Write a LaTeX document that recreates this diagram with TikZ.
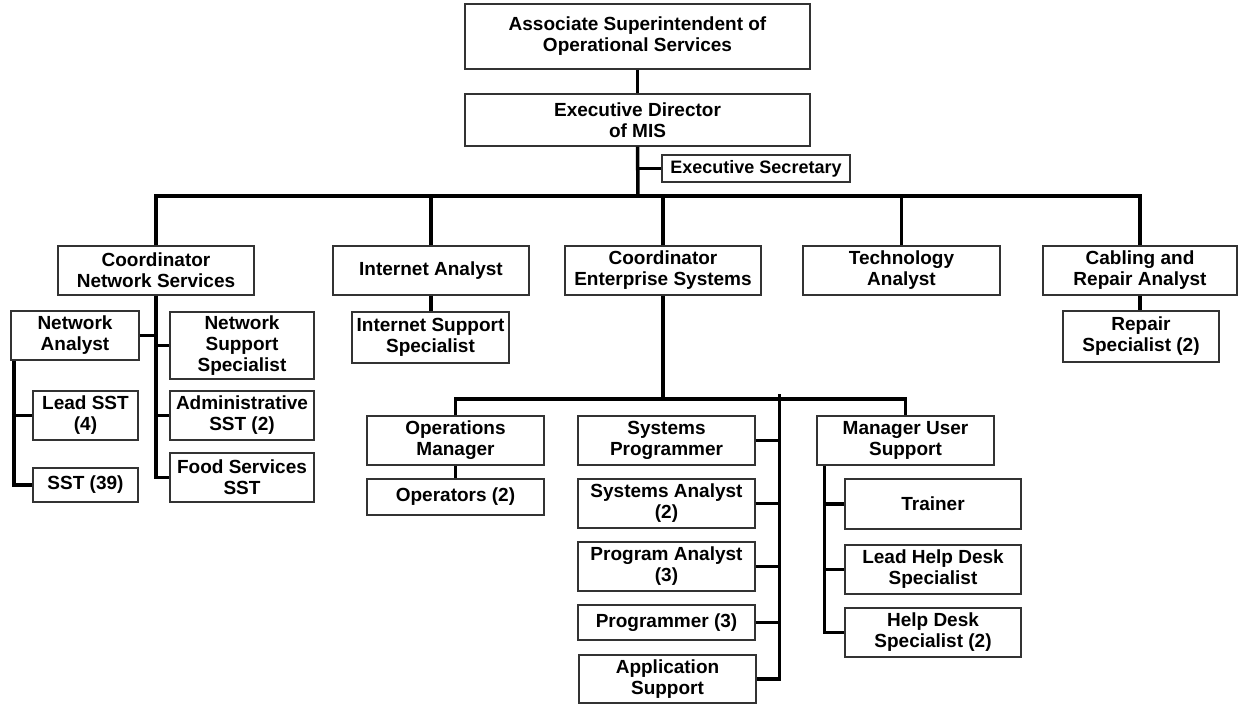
\documentclass[tikz,border=0pt]{standalone}
\usepackage{fontspec}
\setmainfont{Liberation Sans}
% \orgbox{name}{x1}{y1}{x2}{y2}{text}: a box given by its corners
\newcommand\orgbox[6]{%
  \node[box, minimum width={#4-#2}, minimum height={#5-#3}]
    (#1) at ({(#2+#4)/2},{(#3+#5)/2}) {#6};}
\begin{document}
\begin{tikzpicture}[x=1pt,y=-1pt,
  box/.style={draw=black!80, line width=1.2pt, fill=white, align=center,
    inner sep=0pt, font=\bfseries\fontsize{19}{21}\selectfont},
  smallbox/.style={box, font=\bfseries\fontsize{18}{20}\selectfont},
  conn/.style={line width=3.5pt, line join=miter, line cap=butt}]
\useasboundingbox[fill=white] (0,0) rectangle (1238,704);

% top of the chart
\orgbox{asos}{465}{4}{810}{69}{Associate Superintendent of\\Operational Services}
\orgbox{exec}{465}{94}{810}{146}{Executive Director\\of MIS}
\node[smallbox, minimum width=188, minimum height=27] (exsec) at (756,168.5) {Executive Secretary};

% second level
\orgbox{cns}{58}{246}{254}{295}{Coordinator\\Network Services}
\orgbox{ia}{333}{246}{529}{295}{Internet Analyst}
\orgbox{ces}{565}{246}{761}{295}{Coordinator\\Enterprise Systems}
\orgbox{tech}{803}{246}{1000}{295}{Technology\\Analyst}
\orgbox{cab}{1043}{246}{1237}{295}{Cabling and\\Repair Analyst}

% network services group
\orgbox{na}{11}{311}{139}{360}{Network\\Analyst}
\orgbox{nss}{170}{312}{314}{379}{Network\\Support\\Specialist}
\orgbox{lead}{33}{391}{138}{440}{Lead SST\\(4)}
\orgbox{adm}{170}{391}{314}{440}{Administrative\\SST (2)}
\orgbox{sst}{33}{468}{138}{502}{SST (39)}
\orgbox{food}{170}{453}{314}{502}{Food Services\\SST}

% internet and repair
\orgbox{iss}{352}{312}{509}{363}{Internet Support\\Specialist}
\orgbox{rep}{1063}{311}{1219}{362}{Repair\\Specialist (2)}

% enterprise systems group
\orgbox{om}{367}{416}{544}{465}{Operations\\Manager}
\orgbox{ops}{367}{479}{544}{515}{Operators (2)}
\orgbox{sp}{578}{416}{755}{465}{Systems\\Programmer}
\orgbox{sa}{578}{479}{755}{528}{Systems Analyst\\(2)}
\orgbox{pa}{578}{542}{755}{591}{Program Analyst\\(3)}
\orgbox{pthree}{578}{605}{755}{640}{Programmer (3)}
\orgbox{as}{579}{655}{756}{703}{Application\\Support}
\orgbox{mus}{817}{416}{994}{465}{Manager User\\Support}
\orgbox{tr}{845}{479}{1021}{529}{Trainer}
\orgbox{lhd}{845}{545}{1021}{594}{Lead Help Desk\\Specialist}
\orgbox{hds}{845}{608}{1021}{657}{Help Desk\\Specialist (2)}

% junction points of the connector lines
\coordinate (bus) at (638,196);
\coordinate (bustwo) at (663,399);
\coordinate (systrunk) at (779.3,394);
\coordinate (natrunk) at ([xshift=3.5pt]na.south west);
\coordinate (mustrunk) at ([xshift=8pt]mus.south west);

% connectors
\draw[conn] (asos.south) -- (exec.north);
\draw[conn] (exec.south) -- (bus);
\draw[conn] (exsec.west) -- (exsec.west -| exec.south);
\draw[conn] (cns.north) |- (bus) -| (cab.north);
\draw[conn] (ia.north) -- (ia.north |- bus);
\draw[conn] (ces.north) -- (ces.north |- bus);
\draw[conn] (tech.north) -- (tech.north |- bus);

\draw[conn] (cns.south) |- (food.west);
\draw[conn] (na.east) -- (na.east -| cns.south);
\draw[conn] (nss.west) -- (nss.west -| cns.south);
\draw[conn] (adm.west) -- (adm.west -| cns.south);
\draw[conn] (natrunk) |- (sst.west);
\draw[conn] (lead.west) -- (lead.west -| natrunk);

\draw[conn] (ia.south) -- (ia.south |- iss.north);
\draw[conn] (cab.south) -- (cab.south |- rep.north);

\draw[conn] (ces.south) -- (bustwo);
\draw[conn] (om.north) |- (bustwo) -| (mus.north);
\draw[conn] (om.south) -- (ops.north);
\draw[conn] (systrunk) |- (as.east);
\draw[conn] (sp.east) -- (sp.east -| systrunk);
\draw[conn] (sa.east) -- (sa.east -| systrunk);
\draw[conn] (pa.east) -- (pa.east -| systrunk);
\draw[conn] (pthree.east) -- (pthree.east -| systrunk);
\draw[conn] (mustrunk) |- (hds.west);
\draw[conn] (tr.west) -- (tr.west -| mustrunk);
\draw[conn] (lhd.west) -- (lhd.west -| mustrunk);
\end{tikzpicture}
\end{document}
